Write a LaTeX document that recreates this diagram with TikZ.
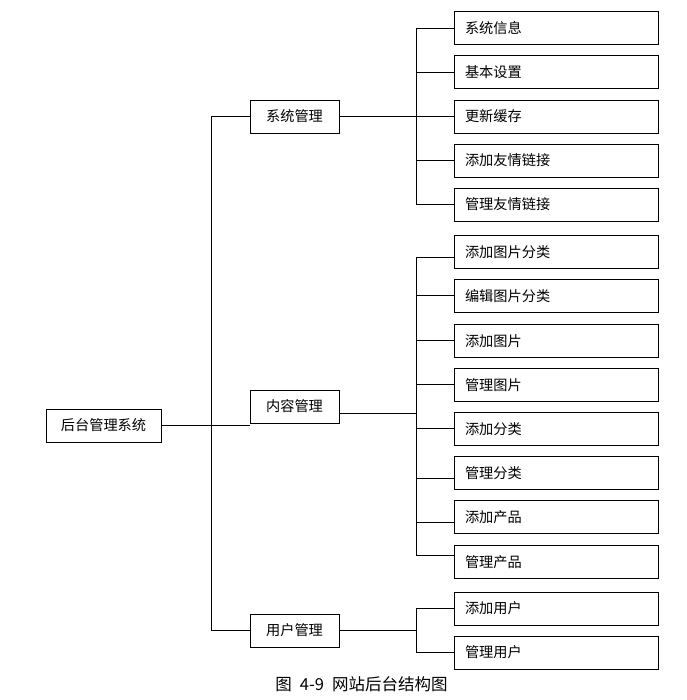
\documentclass[tikz,border=0pt]{standalone}
\usepackage{fontspec}
\newfontfamily\cjk{Noto Sans CJK SC}
\tikzset{
  box/.style={draw, line width=0.8pt, minimum height=33pt, inner ysep=0pt, font=\cjk\fontsize{14.2}{15}\selectfont},
  midbox/.style={box, minimum width=89pt, inner xsep=0pt},
  leaf/.style={box, text width=182pt, inner xsep=11pt, align=left},
  conn/.style={line width=0.8pt, black}
}
\begin{document}
\begin{tikzpicture}[x=1pt,y=-1pt]
\useasboundingbox (0,0) rectangle (686,700);
% main nodes
\node[box, minimum width=115pt, inner xsep=0pt] (root) at (103.5,425.5) {后台管理系统};
\node[midbox] (sys) at (294.5,116.5) {系统管理};
\node[midbox] (cnt) at (294.5,406.5) {内容管理};
\node[midbox] (usr) at (294.5,630.5) {用户管理};
% leaves
\node[leaf] (s1) at (556,28) {系统信息};
\node[leaf] (s2) at (556,72) {基本设置};
\node[leaf] (s3) at (556,116.5) {更新缓存};
\node[leaf] (s4) at (556,160.5) {添加友情链接};
\node[leaf] (s5) at (556,204.5) {管理友情链接};
\node[leaf] (c1) at (556,251.8) {添加图片分类};
\node[leaf] (c2) at (556,295.8) {编辑图片分类};
\node[leaf] (c3) at (556,340.8) {添加图片};
\node[leaf] (c4) at (556,384.8) {管理图片};
\node[leaf] (c5) at (556,428.8) {添加分类};
\node[leaf] (c6) at (556,472.8) {管理分类};
\node[leaf] (c7) at (556,516.8) {添加产品};
\node[leaf] (c8) at (556,561.8) {管理产品};
\node[leaf] (u1) at (556,608.5) {添加用户};
\node[leaf] (u2) at (556,652.5) {管理用户};
% caption
\node[font=\cjk\fontsize{16.5}{17}\selectfont, inner sep=0pt] (cap) at (361.5,684) {图\hspace{8pt}4-9\hspace{8pt}网站后台结构图};
% trunk
\coordinate (tr) at (211,0);
\coordinate (bus) at (416,0);
\draw[conn] (tr |- sys.west) -- (tr |- usr.west);
\draw[conn] (tr |- sys.west) -- (sys.west);
\draw[conn] (tr |- usr.west) -- (usr.west);
\draw[conn] (root.east) -- (root.east -| cnt.west);
% system branch
\draw[conn] (sys.east) -- (sys.east -| bus);
\draw[conn] (bus |- s1.west) -- (bus |- s5.west);
\foreach \n in {s1,s2,s3,s4,s5} \draw[conn] (bus |- \n.west) -- (\n.west);
% content branch
\draw[conn] ([yshift=-6.5pt]cnt.east) -- ([yshift=-6.5pt]cnt.east -| bus);
\draw[conn] ([yshift=-6pt]bus |- c1.west) -- ([yshift=6pt]bus |- c8.west);
\draw[conn] ([yshift=-6pt]bus |- c1.west) -- ([yshift=-6pt]c1.west);
\foreach \n in {c2,c3,c4,c5} \draw[conn] (bus |- \n.west) -- (\n.west);
\draw[conn] ([yshift=-6pt]bus |- c6.west) -- ([yshift=-6pt]c6.west);
\draw[conn] ([yshift=-6pt]bus |- c7.west) -- ([yshift=-6pt]c7.west);
\draw[conn] ([yshift=6pt]bus |- c8.west) -- ([yshift=6pt]c8.west);
% user branch
\draw[conn] (usr.east) -- (usr.east -| bus);
\draw[conn] (bus |- u1.west) -- (bus |- u2.west);
\draw[conn] (bus |- u1.west) -- (u1.west);
\draw[conn] (bus |- u2.west) -- (u2.west);
\end{tikzpicture}
\end{document}
